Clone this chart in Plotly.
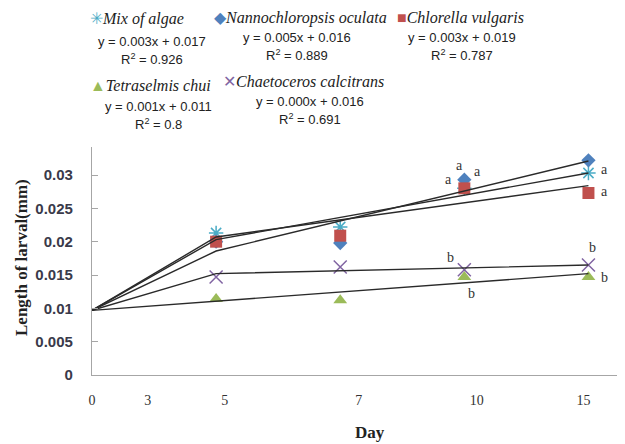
import plotly.graph_objects as go

# ---- data ----
day_labels = ["0", "3", "5", "7", "10", "15"]
day_label_pos = [0, 0.45, 1.07, 2.15, 3.10, 3.96]
sample_pos = [1, 2, 3, 4]          # days 5, 7, 10, 15 plotted at equal spacing

series_names = ["Mix of algae", "Nannochloropsis oculata", "Chlorella vulgaris",
                "Tetraselmis chui", "Chaetoceros calcitrans"]
mix_vals = [0.0213, 0.0222, 0.0280, 0.0303]
nanno_vals = [0.0200, 0.0198, 0.0293, 0.0322]
chlorella_vals = [0.0200, 0.0209, 0.0280, 0.0273]
tetra_vals = [0.0114, 0.0112, 0.0147, 0.0147]
chaeto_vals = [0.0147, 0.0162, 0.0158, 0.0165]

# fitted lines: start (day 0), day 5, day 15
line_pos = [0, 1, 4]
mix_line = [0.0097, 0.0203, 0.0303]
nanno_line = [0.0097, 0.0186, 0.0321]
chlorella_line = [0.0097, 0.0207, 0.0284]
tetra_line = [0.0097, 0.0111, 0.0152]
chaeto_line = [0.0097, 0.0152, 0.0165]

equations = ["y = 0.003x + 0.017", "y = 0.005x + 0.016", "y = 0.003x + 0.019",
             "y = 0.001x + 0.011", "y = 0.000x + 0.016"]
r2_values = ["0.926", "0.889", "0.787", "0.8", "0.691"]

letters = ["a", "a", "a", "b", "b", "a", "a", "a", "b", "b"]

# ---- styling ----
colors = ["#4bacc6", "#4f81bd", "#c0504d", "#9bbb59", "#8064a2"]
symbols = ["asterisk-open", "diamond", "square", "triangle-up", "x-thin-open"]
sizes = [12, 11, 12, 12, 13]
glyphs = ["\u2733", "\u25c6", "\u25a0", "\u25b2", "\u2715"]

fig = go.Figure()

vals = [mix_vals, nanno_vals, chlorella_vals, tetra_vals, chaeto_vals]
for i in range(5):
    mk = dict(symbol=symbols[i], size=sizes[i], color=colors[i])
    if "open" in symbols[i]:
        mk["line"] = dict(color=colors[i], width=1.5)
    fig.add_trace(go.Scatter(x=sample_pos, y=vals[i], mode="markers",
                             marker=mk, name=series_names[i], showlegend=False,
                             cliponaxis=False))

for ln in [mix_line, nanno_line, chlorella_line, tetra_line, chaeto_line]:
    fig.add_trace(go.Scatter(x=line_pos, y=ln, mode="lines",
                             line=dict(color="#2a2a2a", width=1.4),
                             showlegend=False, hoverinfo="skip"))

annotations = []
# significance letters (x, y in data units)
letter_xy = [(2.96, 0.0314), (2.87, 0.0293), (3.11, 0.0306), (2.89, 0.0176), (3.06, 0.0122),
             (4.01, 0.0348), (4.13, 0.0308), (4.13, 0.0275), (4.03, 0.0191), (4.13, 0.0147)]
for t, (lx, ly) in zip(letters, letter_xy):
    annotations.append(dict(x=lx, y=ly, xref="x", yref="y", text=t, showarrow=False,
                            font=dict(family="Liberation Serif", size=14, color="#333333")))

# page body adds an 8px offset; design the figure in screen pixels minus that
OFF = 8
W, H = 625 - OFF, 444 - OFF
L = 92 - OFF
T = 147 - OFF
R = W - (617 - OFF)
B = H - (375 - OFF)
pw, ph = W - L - R, H - T - B


def px(xp):
    return (xp - OFF - L) / pw


def py(yp):
    return (H - B - (yp - OFF)) / ph


legend_layout = [
    # (symbol x, name y, equation center x, eq y, r2 y)
    (95, 19, 152, 41, 59),
    (219, 18, 297, 37, 55),
    (402, 18, 462, 37, 55),
    (95, 86, 158, 106, 124),
    (228, 82, 310, 101, 119),
]
for i, (sx, ny, ecx, ey, ry) in enumerate(legend_layout):
    annotations.append(dict(
        x=px(sx - 7), y=py(ny), xref="paper", yref="paper", xanchor="left", yanchor="middle",
        text=f"<span style='color:{colors[i]}'>{glyphs[i]}</span><i>{series_names[i]}</i>",
        showarrow=False, font=dict(family="Liberation Serif", size=16, color="#222222")))
    annotations.append(dict(
        x=px(ecx), y=py(ey), xref="paper", yref="paper", xanchor="center", yanchor="middle",
        text=equations[i], showarrow=False,
        font=dict(family="Liberation Sans", size=13, color="#222222")))
    annotations.append(dict(
        x=px(ecx), y=py(ry), xref="paper", yref="paper", xanchor="center", yanchor="middle",
        text=f"R<sup>2</sup> = {r2_values[i]}", showarrow=False,
        font=dict(family="Liberation Sans", size=13, color="#222222")))

# x axis title placed as annotation (offset to the right like the original)
annotations.append(dict(x=px(370), y=py(432), xref="paper", yref="paper",
                        xanchor="center", yanchor="middle", text="<b>Day</b>", showarrow=False,
                        font=dict(family="Liberation Serif", size=17, color="#222222")))
# y axis title
annotations.append(dict(x=px(21), y=py(258), xref="paper", yref="paper",
                        xanchor="center", yanchor="middle", textangle=-90,
                        text="<b>Length of larval(mm)</b>", showarrow=False,
                        font=dict(family="Liberation Serif", size=17, color="#222222")))

fig.update_layout(
    width=W, height=H,
    margin=dict(l=L, r=R, t=T, b=B),
    paper_bgcolor="white", plot_bgcolor="white",
    annotations=annotations,
    showlegend=False,
    xaxis=dict(range=[0, 4.23], tickvals=day_label_pos, ticktext=day_labels,
               showgrid=False, zeroline=False, showline=True, linecolor="#a6a6a6",
               linewidth=1.3, ticks="", ticklen=0, automargin=False,
               ticklabelstandoff=12,
               tickfont=dict(family="Liberation Serif", size=14, color="#333333")),
    yaxis=dict(range=[0, 0.0342], tickvals=[0, 0.005, 0.01, 0.015, 0.02, 0.025, 0.03],
               ticktext=["0", "0.005", "0.01", "0.015", "0.02", "0.025", "0.03"],
               showgrid=False, zeroline=False, showline=True, linecolor="#a6a6a6",
               linewidth=1.3, ticks="inside", ticklen=6, tickcolor="#a6a6a6",
               ticklabelstandoff=15, automargin=False,
               tickfont=dict(family="Liberation Sans", size=15, color="#3a3a4a",
                             weight="bold")),
)

fig.write_html("out.html")
